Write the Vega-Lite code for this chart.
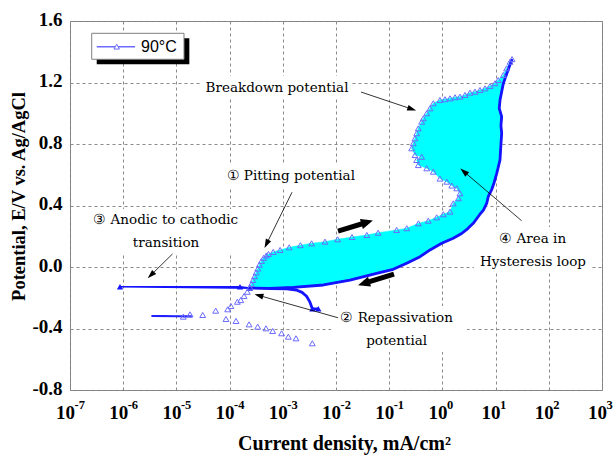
{
  "$schema": "https://vega.github.io/schema/vega-lite/v6.json",
  "width": 532,
  "height": 369,
  "autosize": {"type": "none"},
  "padding": {"left": 70, "top": 21, "right": 13, "bottom": 65},
  "background": "white",
  "config": {
    "view": {"stroke": "#7f7f7f", "strokeWidth": 1},
    "axis": {
      "ticks": false,
      "domain": false,
      "labelFont": "Liberation Serif",
      "labelFontSize": 19,
      "labelFontWeight": "bold",
      "labelColor": "#000000",
      "labelFlush": false,
      "labelOverlap": false,
      "titleFont": "Liberation Serif",
      "titleFontSize": 20,
      "titleFontWeight": "bold",
      "titleColor": "#000000"
    }
  },
  "datasets": {
    "scan": [
      {"step": 1, "scan": "forward", "current": 0.00359, "potential": -0.496},
      {"step": 2, "scan": "forward", "current": 0.00177, "potential": -0.464},
      {"step": 3, "scan": "forward", "current": 0.00127, "potential": -0.453},
      {"step": 4, "scan": "forward", "current": 0.00095, "potential": -0.431},
      {"step": 5, "scan": "forward", "current": 0.000645, "potential": -0.416},
      {"step": 6, "scan": "forward", "current": 0.000483, "potential": -0.399},
      {"step": 7, "scan": "forward", "current": 0.000337, "potential": -0.388},
      {"step": 8, "scan": "forward", "current": 0.000232, "potential": -0.373},
      {"step": 9, "scan": "forward", "current": 0.000132, "potential": -0.351},
      {"step": 10, "scan": "forward", "current": 0.0000855, "potential": -0.338},
      {"step": 11, "scan": "forward", "current": 0.0000548, "potential": -0.284},
      {"step": 12, "scan": "forward", "current": 0.0000312, "potential": -0.312},
      {"step": 13, "scan": "forward", "current": 0.000018, "potential": -0.308},
      {"step": 14, "scan": "forward", "current": 0.0000135, "potential": -0.323},
      {"step": 15, "scan": "forward", "current": 0.000019, "potential": -0.321},
      {"step": 16, "scan": "forward", "current": 0.000009, "potential": -0.32},
      {"step": 17, "scan": "forward", "current": 0.0000034, "potential": -0.319},
      {"step": 18, "scan": "forward", "current": 0.000011, "potential": -0.321},
      {"step": 19, "scan": "forward", "current": 0.00002, "potential": -0.322},
      {"step": 20, "scan": "forward", "current": 0.000092, "potential": -0.275},
      {"step": 21, "scan": "forward", "current": 0.000106, "potential": -0.254},
      {"step": 22, "scan": "forward", "current": 0.00014, "potential": -0.226},
      {"step": 23, "scan": "forward", "current": 0.000162, "potential": -0.215},
      {"step": 24, "scan": "forward", "current": 0.000187, "potential": -0.189},
      {"step": 25, "scan": "forward", "current": 0.000215, "potential": -0.161},
      {"step": 26, "scan": "forward", "current": 0.000242, "potential": -0.132},
      {"step": 27, "scan": "forward", "current": 0.000257, "potential": -0.11},
      {"step": 28, "scan": "forward", "current": 0.000275, "potential": -0.085},
      {"step": 29, "scan": "forward", "current": 0.000295, "potential": -0.06},
      {"step": 30, "scan": "forward", "current": 0.000316, "potential": -0.035},
      {"step": 31, "scan": "forward", "current": 0.000339, "potential": -0.01},
      {"step": 32, "scan": "forward", "current": 0.000363, "potential": 0.015},
      {"step": 33, "scan": "forward", "current": 0.000398, "potential": 0.04},
      {"step": 34, "scan": "forward", "current": 0.000437, "potential": 0.06},
      {"step": 35, "scan": "forward", "current": 0.00049, "potential": 0.075},
      {"step": 36, "scan": "forward", "current": 0.000537, "potential": 0.085},
      {"step": 37, "scan": "forward", "current": 0.00066, "potential": 0.098},
      {"step": 38, "scan": "forward", "current": 0.00089, "potential": 0.111},
      {"step": 39, "scan": "forward", "current": 0.00132, "potential": 0.128},
      {"step": 40, "scan": "forward", "current": 0.00214, "potential": 0.142},
      {"step": 41, "scan": "forward", "current": 0.00347, "potential": 0.154},
      {"step": 42, "scan": "forward", "current": 0.0062, "potential": 0.165},
      {"step": 43, "scan": "forward", "current": 0.0107, "potential": 0.18},
      {"step": 44, "scan": "forward", "current": 0.02, "potential": 0.195},
      {"step": 45, "scan": "forward", "current": 0.038, "potential": 0.208},
      {"step": 46, "scan": "forward", "current": 0.062, "potential": 0.223},
      {"step": 47, "scan": "forward", "current": 0.138, "potential": 0.241},
      {"step": 48, "scan": "forward", "current": 0.214, "potential": 0.252},
      {"step": 49, "scan": "forward", "current": 0.355, "potential": 0.284},
      {"step": 50, "scan": "forward", "current": 0.543, "potential": 0.301},
      {"step": 51, "scan": "forward", "current": 0.78, "potential": 0.323},
      {"step": 52, "scan": "forward", "current": 1.04, "potential": 0.343},
      {"step": 53, "scan": "forward", "current": 1.39, "potential": 0.36},
      {"step": 54, "scan": "forward", "current": 1.6, "potential": 0.414},
      {"step": 55, "scan": "forward", "current": 2.0, "potential": 0.447},
      {"step": 56, "scan": "forward", "current": 2.14, "potential": 0.479},
      {"step": 57, "scan": "forward", "current": 1.86, "potential": 0.512},
      {"step": 58, "scan": "forward", "current": 1.5, "potential": 0.53},
      {"step": 59, "scan": "forward", "current": 1.21, "potential": 0.555},
      {"step": 60, "scan": "forward", "current": 0.9, "potential": 0.575},
      {"step": 61, "scan": "forward", "current": 0.675, "potential": 0.62},
      {"step": 62, "scan": "forward", "current": 0.507, "potential": 0.642},
      {"step": 63, "scan": "forward", "current": 0.352, "potential": 0.663},
      {"step": 64, "scan": "forward", "current": 0.328, "potential": 0.696},
      {"step": 65, "scan": "forward", "current": 0.408, "potential": 0.717},
      {"step": 66, "scan": "forward", "current": 0.305, "potential": 0.728},
      {"step": 67, "scan": "forward", "current": 0.265, "potential": 0.772},
      {"step": 68, "scan": "forward", "current": 0.284, "potential": 0.805},
      {"step": 69, "scan": "forward", "current": 0.305, "potential": 0.837},
      {"step": 70, "scan": "forward", "current": 0.329, "potential": 0.87},
      {"step": 71, "scan": "forward", "current": 0.352, "potential": 0.902},
      {"step": 72, "scan": "forward", "current": 0.408, "potential": 0.945},
      {"step": 73, "scan": "forward", "current": 0.438, "potential": 0.967},
      {"step": 74, "scan": "forward", "current": 0.507, "potential": 1.0},
      {"step": 75, "scan": "forward", "current": 0.585, "potential": 1.032},
      {"step": 76, "scan": "forward", "current": 0.675, "potential": 1.065},
      {"step": 77, "scan": "forward", "current": 0.9, "potential": 1.086},
      {"step": 78, "scan": "forward", "current": 1.12, "potential": 1.091},
      {"step": 79, "scan": "forward", "current": 1.39, "potential": 1.097},
      {"step": 80, "scan": "forward", "current": 1.73, "potential": 1.104},
      {"step": 81, "scan": "forward", "current": 2.14, "potential": 1.108},
      {"step": 82, "scan": "forward", "current": 2.66, "potential": 1.119},
      {"step": 83, "scan": "forward", "current": 3.3, "potential": 1.134},
      {"step": 84, "scan": "forward", "current": 4.1, "potential": 1.14},
      {"step": 85, "scan": "forward", "current": 5.09, "potential": 1.151},
      {"step": 86, "scan": "forward", "current": 6.32, "potential": 1.162},
      {"step": 87, "scan": "forward", "current": 7.85, "potential": 1.177},
      {"step": 88, "scan": "forward", "current": 9.75, "potential": 1.195},
      {"step": 89, "scan": "forward", "current": 11.2, "potential": 1.216},
      {"step": 90, "scan": "forward", "current": 14.0, "potential": 1.249},
      {"step": 91, "scan": "forward", "current": 16.1, "potential": 1.292},
      {"step": 92, "scan": "forward", "current": 18.7, "potential": 1.335},
      {"step": 93, "scan": "forward", "current": 20.4, "potential": 1.352},
      {"step": 94, "scan": "reverse", "current": 17.5, "potential": 1.29},
      {"step": 95, "scan": "reverse", "current": 14.0, "potential": 1.195},
      {"step": 96, "scan": "reverse", "current": 12.1, "potential": 1.086},
      {"step": 97, "scan": "reverse", "current": 11.7, "potential": 1.032},
      {"step": 98, "scan": "reverse", "current": 13.0, "potential": 0.978},
      {"step": 99, "scan": "reverse", "current": 12.6, "potential": 0.92},
      {"step": 100, "scan": "reverse", "current": 13.0, "potential": 0.87},
      {"step": 101, "scan": "reverse", "current": 12.4, "potential": 0.761},
      {"step": 102, "scan": "reverse", "current": 12.1, "potential": 0.696},
      {"step": 103, "scan": "reverse", "current": 10.5, "potential": 0.609},
      {"step": 104, "scan": "reverse", "current": 9.4, "potential": 0.55},
      {"step": 105, "scan": "reverse", "current": 8.4, "potential": 0.501},
      {"step": 106, "scan": "reverse", "current": 7.3, "potential": 0.46},
      {"step": 107, "scan": "reverse", "current": 6.8, "potential": 0.414},
      {"step": 108, "scan": "reverse", "current": 5.9, "potential": 0.37},
      {"step": 109, "scan": "reverse", "current": 5.0, "potential": 0.34},
      {"step": 110, "scan": "reverse", "current": 3.8, "potential": 0.284},
      {"step": 111, "scan": "reverse", "current": 3.0, "potential": 0.25},
      {"step": 112, "scan": "reverse", "current": 2.3, "potential": 0.218},
      {"step": 113, "scan": "reverse", "current": 1.6, "potential": 0.187},
      {"step": 114, "scan": "reverse", "current": 0.97, "potential": 0.154},
      {"step": 115, "scan": "reverse", "current": 0.585, "potential": 0.111},
      {"step": 116, "scan": "reverse", "current": 0.38, "potential": 0.067},
      {"step": 117, "scan": "reverse", "current": 0.213, "potential": 0.024},
      {"step": 118, "scan": "reverse", "current": 0.119, "potential": -0.015},
      {"step": 119, "scan": "reverse", "current": 0.058, "potential": -0.041},
      {"step": 120, "scan": "reverse", "current": 0.0183, "potential": -0.085},
      {"step": 121, "scan": "reverse", "current": 0.0058, "potential": -0.117},
      {"step": 122, "scan": "reverse", "current": 0.00157, "potential": -0.132},
      {"step": 123, "scan": "reverse", "current": 0.00057, "potential": -0.139},
      {"step": 124, "scan": "reverse", "current": 0.00024, "potential": -0.137},
      {"step": 125, "scan": "reverse", "current": 0.000157, "potential": -0.128},
      {"step": 126, "scan": "reverse", "current": 0.00000087, "potential": -0.128},
      {"step": 127, "scan": "reverse", "current": 0.0006, "potential": -0.14},
      {"step": 128, "scan": "reverse", "current": 0.0012, "potential": -0.142},
      {"step": 129, "scan": "reverse", "current": 0.0018, "potential": -0.15},
      {"step": 130, "scan": "reverse", "current": 0.0023, "potential": -0.165},
      {"step": 131, "scan": "reverse", "current": 0.0028, "potential": -0.19},
      {"step": 132, "scan": "reverse", "current": 0.0032, "potential": -0.225},
      {"step": 133, "scan": "reverse", "current": 0.00345, "potential": -0.255},
      {"step": 134, "scan": "reverse", "current": 0.0036, "potential": -0.272},
      {"step": 135, "scan": "reverse", "current": 0.00465, "potential": -0.272}
    ],
    "noteBoxes": [
      {"current": 0.0000278, "current2": 0.02, "potential": 1.242, "potential2": 1.093},
      {"current": 0.000066, "current2": 0.0283, "potential": 0.663, "potential2": 0.52},
      {"current": 0.000000183, "current2": 0.000222, "potential": 0.377, "potential2": 0.085},
      {"current": 0.00805, "current2": 2.9, "potential": -0.254, "potential2": -0.553},
      {"current": 3.9, "current2": 649, "potential": 0.26, "potential2": -0.039}
    ],
    "notes": [
      {"current": 0.000778, "potential": 1.167, "label": "Breakdown potential"},
      {"current": 0.00141, "potential": 0.594, "label": "① Pitting potential"},
      {"current": 0.0000063, "potential": 0.306, "label": "③ Anodic to cathodic"},
      {"current": 0.00000638, "potential": 0.156, "label": "transition"},
      {"current": 0.138, "potential": -0.33, "label": "② Repassivation"},
      {"current": 0.138, "potential": -0.481, "label": "potential"},
      {"current": 49.8, "potential": 0.182, "label": "④ Area in"},
      {"current": 50.5, "potential": 0.033, "label": "Hysteresis loop"}
    ],
    "pointers": [
      {"current": 0.267, "potential": 1.027, "current2": 0.0295, "potential2": 1.138, "heading": 108.6},
      {"current": 0.000494, "potential": 0.15, "current2": 0.00149, "potential2": 0.486, "heading": 206.3},
      {"current": 0.00000332, "potential": -0.053, "current2": 0.00000845, "potential2": 0.085, "heading": 225.6},
      {"current": 0.000354, "potential": -0.185, "current2": 0.0109, "potential2": -0.33, "heading": 285.7},
      {"current": 2.52, "potential": 0.621, "current2": 30.8, "potential2": 0.301, "heading": 310.4}
    ],
    "sweeps": [
      {"current": 0.0385, "potential": 0.291, "current2": 0.0109, "potential2": 0.234, "heading": 73.1},
      {"current": 0.0333, "potential": -0.107, "current2": 0.123, "potential2": -0.046, "heading": 252.6}
    ],
    "decades": [
      {"current": 1e-7, "exp": "-7"},
      {"current": 1e-6, "exp": "-6"},
      {"current": 1e-5, "exp": "-5"},
      {"current": 1e-4, "exp": "-4"},
      {"current": 1e-3, "exp": "-3"},
      {"current": 1e-2, "exp": "-2"},
      {"current": 1e-1, "exp": "-1"},
      {"current": 1, "exp": "0"},
      {"current": 10, "exp": "1"},
      {"current": 100, "exp": "2"},
      {"current": 1000, "exp": "3"}
    ]
  },
  "encoding": {
    "x": {
      "field": "current",
      "type": "quantitative",
      "scale": {"type": "log", "domain": [1e-7, 1000], "nice": false},
      "axis": {
        "values": [1e-7, 1e-6, 1e-5, 1e-4, 1e-3, 1e-2, 1e-1, 1, 10, 100, 1000],
        "grid": true,
        "gridDash": [3, 3],
        "gridColor": "#8a8a8a",
        "gridWidth": 1,
        "gridOpacity": 1,
        "labelExpr": "'10'",
        "labelBaseline": "alphabetic",
        "labelPadding": 28,
        "labelOffset": -5,
        "title": "Current density, mA/cm²",
        "titleBaseline": "alphabetic",
        "titleY": 59,
        "titleX": 274
      }
    }
  },
  "layer": [
    {
      "data": {"name": "noteBoxes"},
      "mark": {"type": "rect", "fill": "white", "stroke": null},
      "encoding": {
        "y": {
          "field": "potential",
          "type": "quantitative",
          "scale": {"domain": [-0.8, 1.6], "nice": false, "zero": false},
          "axis": {
            "values": [-0.8, -0.4, 0, 0.4, 0.8, 1.2, 1.6],
            "grid": true,
            "gridDash": [3, 3],
            "gridColor": "#8a8a8a",
            "gridWidth": 1,
            "gridOpacity": 1,
            "labelExpr": "datum.value < 0 ? '-' + format(-datum.value, '.1f') : format(datum.value, '.1f')",
            "labelPadding": 8,
            "labelOffset": -2,
            "title": "Potential, E/V vs. Ag/AgCl",
            "titleFontSize": 18.5,
            "titleBaseline": "alphabetic",
            "titleAlign": "center",
            "titleX": -46,
            "titleY": 175
          }
        },
        "x2": {"field": "current2"},
        "y2": {"field": "potential2"}
      }
    },
    {
      "data": {"name": "scan"},
      "transform": [{"filter": "datum.step >= 26 && datum.step <= 124"}],
      "mark": {"type": "line", "fill": "#00ffff", "stroke": "#00ffff", "strokeWidth": 0.5},
      "encoding": {
        "y": {"field": "potential", "type": "quantitative"},
        "order": {"field": "step", "type": "quantitative"}
      }
    },
    {
      "data": {"name": "scan"},
      "transform": [{"filter": "datum.step >= 14 && datum.step <= 19"}],
      "mark": {"type": "line", "stroke": "#2020ff", "strokeWidth": 2},
      "encoding": {
        "y": {"field": "potential", "type": "quantitative"},
        "order": {"field": "step", "type": "quantitative"}
      }
    },
    {
      "data": {"name": "scan"},
      "transform": [{"filter": "datum.step >= 93"}],
      "mark": {"type": "line", "stroke": "#1414ff", "strokeWidth": 1.5},
      "encoding": {
        "y": {"field": "potential", "type": "quantitative"},
        "order": {"field": "step", "type": "quantitative"}
      }
    },
    {
      "data": {"name": "scan"},
      "transform": [{"filter": "datum.step >= 93 && (datum.step <= 124 || datum.step >= 127)"}],
      "mark": {"type": "line", "stroke": "#1414ff", "strokeWidth": 2.8, "strokeJoin": "round"},
      "encoding": {
        "y": {"field": "potential", "type": "quantitative"},
        "order": {"field": "step", "type": "quantitative"}
      }
    },
    {
      "data": {"name": "scan"},
      "transform": [{"filter": "datum.step == 124 || datum.step == 125 || datum.step == 126 || datum.step == 134 || datum.step == 135"}],
      "mark": {"type": "point", "shape": "triangle-up", "filled": true, "color": "#1414ff", "size": 40, "opacity": 1},
      "encoding": {"y": {"field": "potential", "type": "quantitative"}}
    },
    {
      "data": {"name": "scan"},
      "transform": [{"filter": "datum.step <= 93 && (datum.step < 15 || datum.step > 19)"}],
      "mark": {"type": "point", "shape": "triangle-up", "filled": false, "stroke": "#6b6bff", "strokeWidth": 1, "size": 34, "opacity": 1},
      "encoding": {"y": {"field": "potential", "type": "quantitative"}}
    },
    {
      "data": {"name": "pointers"},
      "mark": {"type": "rule", "color": "#000000", "strokeWidth": 0.8},
      "encoding": {
        "y": {"field": "potential", "type": "quantitative"},
        "x2": {"field": "current2"},
        "y2": {"field": "potential2"}
      }
    },
    {
      "data": {"name": "pointers"},
      "mark": {"type": "point", "shape": "M0,-1L0.65,1L-0.65,1Z", "filled": true, "color": "#000000", "size": 81, "opacity": 1},
      "encoding": {
        "y": {"field": "potential", "type": "quantitative"},
        "angle": {"field": "heading", "type": "quantitative", "scale": null}
      }
    },
    {
      "data": {"name": "sweeps"},
      "mark": {"type": "rule", "color": "#000000", "strokeWidth": 5},
      "encoding": {
        "y": {"field": "potential", "type": "quantitative"},
        "x2": {"field": "current2"},
        "y2": {"field": "potential2"}
      }
    },
    {
      "data": {"name": "sweeps"},
      "mark": {"type": "point", "shape": "M0,-1L0.85,1L-0.85,1Z", "filled": true, "color": "#000000", "size": 144, "opacity": 1},
      "encoding": {
        "y": {"field": "potential", "type": "quantitative"},
        "angle": {"field": "heading", "type": "quantitative", "scale": null}
      }
    },
    {
      "data": {"name": "notes"},
      "mark": {"type": "text", "font": "DejaVu Serif", "fontSize": 13.5, "align": "center", "baseline": "middle", "color": "#000000"},
      "encoding": {
        "y": {"field": "potential", "type": "quantitative"},
        "text": {"field": "label"}
      }
    },
    {
      "data": {"values": [{"current": 3.18e-7, "current2": 1.75e-5, "potential": 1.487, "potential2": 1.318}]},
      "mark": {"type": "rect", "fill": "#000000"},
      "encoding": {
        "y": {"field": "potential", "type": "quantitative"},
        "x2": {"field": "current2"},
        "y2": {"field": "potential2"}
      }
    },
    {
      "data": {"values": [{"current": 2.56e-7, "current2": 1.39e-5, "potential": 1.52, "potential2": 1.351}]},
      "mark": {"type": "rect", "fill": "#ffffff", "stroke": "#7f7f7f", "strokeWidth": 1},
      "encoding": {
        "y": {"field": "potential", "type": "quantitative"},
        "x2": {"field": "current2"},
        "y2": {"field": "potential2"}
      }
    },
    {
      "data": {"values": [{"current": 3.18e-7, "current2": 1.67e-6, "potential": 1.433}]},
      "mark": {"type": "rule", "color": "#6b6bff", "strokeWidth": 1.5},
      "encoding": {
        "y": {"field": "potential", "type": "quantitative"},
        "x2": {"field": "current2"}
      }
    },
    {
      "data": {"values": [{"current": 7.55e-7, "potential": 1.433}]},
      "mark": {"type": "point", "shape": "triangle-up", "filled": true, "fill": "#ffffff", "stroke": "#6b6bff", "strokeWidth": 1, "size": 30, "opacity": 1},
      "encoding": {"y": {"field": "potential", "type": "quantitative"}}
    },
    {
      "data": {"values": [{"current": 2.16e-6, "potential": 1.433, "label": "90°C"}]},
      "mark": {"type": "text", "font": "Liberation Sans", "fontSize": 16, "align": "left", "baseline": "middle", "color": "#000000"},
      "encoding": {
        "y": {"field": "potential", "type": "quantitative"},
        "text": {"field": "label"}
      }
    },
    {
      "data": {"name": "decades"},
      "mark": {"type": "text", "font": "Liberation Serif", "fontWeight": "bold", "fontSize": 12.5, "align": "left", "baseline": "alphabetic", "dx": 4.5, "dy": 19, "color": "#000000"},
      "encoding": {
        "y": {"datum": -0.8, "type": "quantitative"},
        "text": {"field": "exp"}
      }
    }
  ]
}
